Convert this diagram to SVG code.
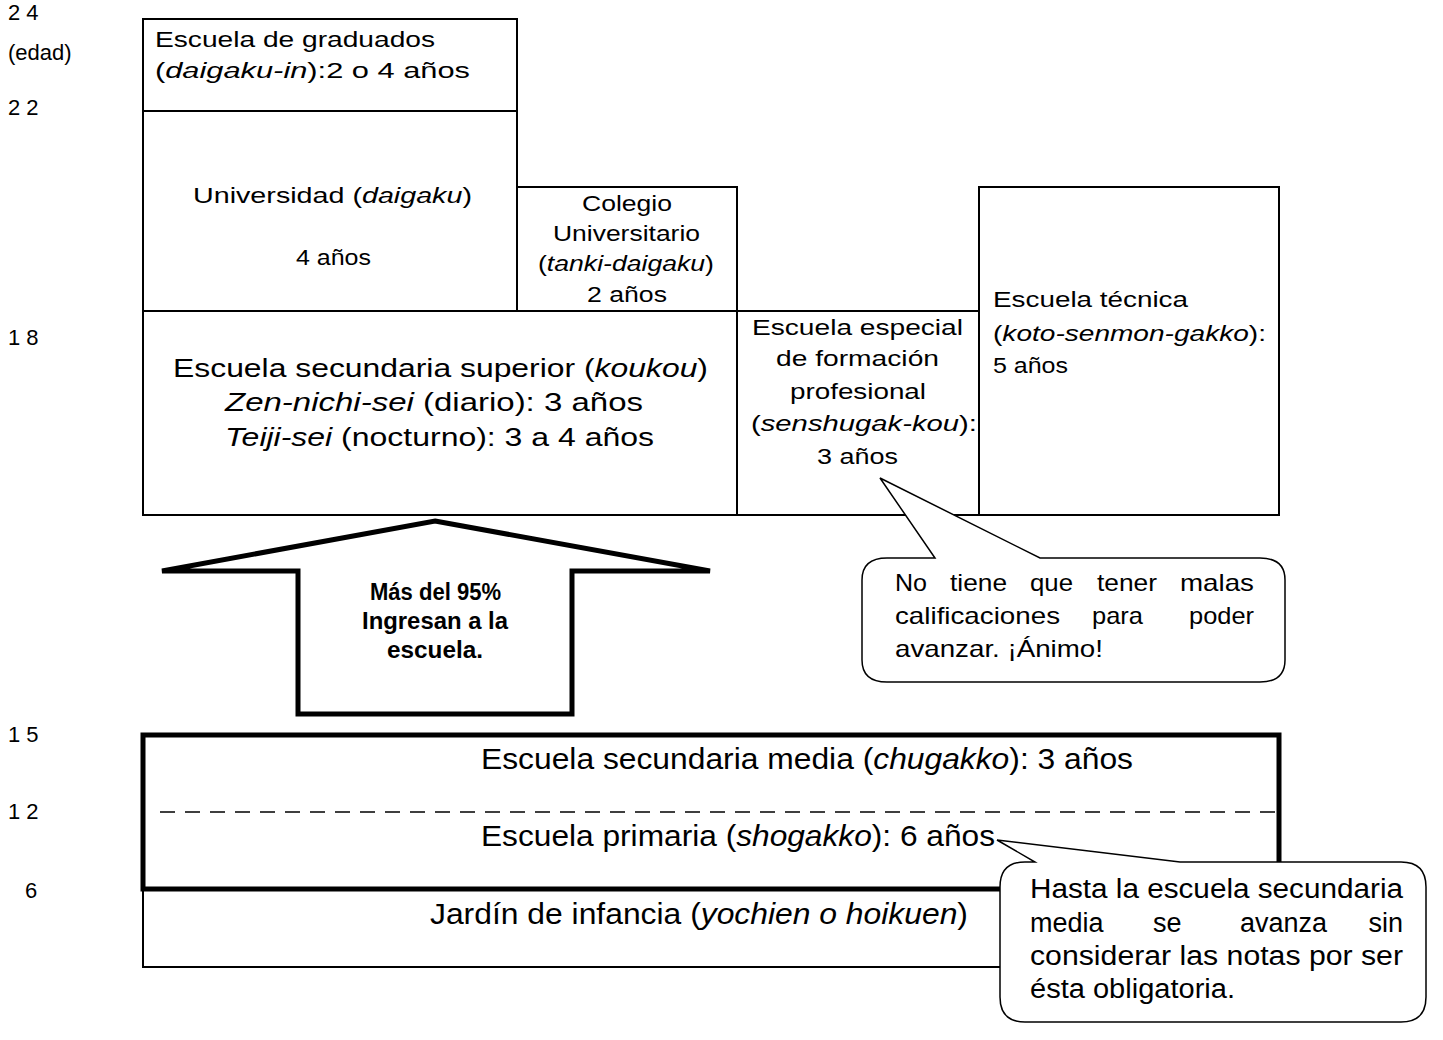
<svg xmlns="http://www.w3.org/2000/svg" width="1443" height="1040" viewBox="0 0 1443 1040">
<style>
text{font-family:"Liberation Sans",Arial,sans-serif;fill:#000}
.a{font-size:22px}
.s{font-size:22px}
.m{font-size:25px}
.b{font-size:23px;font-weight:bold}
.c1{font-size:24px}
.lb{font-size:30px}
.c2{font-size:27px}
.i{font-style:italic}
.box{fill:#fff;stroke:#000;stroke-width:2}
.thin{fill:#fff;stroke:#000;stroke-width:2}
.bubble{fill:#fff;stroke:#000;stroke-width:1.5}
</style>
<rect width="1443" height="1040" fill="#fff"/>
<g id="ages">
<text class="a" x="8" y="20">2 4</text>
<text class="a" x="8" y="60">(edad)</text>
<text class="a" x="8" y="115">2 2</text>
<text class="a" x="8" y="345">1 8</text>
<text class="a" x="8" y="742">1 5</text>
<text class="a" x="8" y="819">1 2</text>
<text class="a" x="25" y="898">6</text>
</g>
<g id="graduados">
<rect class="box" x="143" y="19" width="374" height="92"/>
<text class="s" x="155" y="47" textLength="280" lengthAdjust="spacingAndGlyphs">Escuela de graduados</text>
<text class="s" x="155" y="78" textLength="315" lengthAdjust="spacingAndGlyphs">(<tspan class="i">daigaku-in</tspan>):2 o 4 años</text>
</g>
<g id="universidad">
<rect class="box" x="143" y="111" width="374" height="200"/>
<text class="s" x="193" y="203" textLength="279" lengthAdjust="spacingAndGlyphs">Universidad (<tspan class="i">daigaku</tspan>)</text>
<text class="s" x="296" y="265" textLength="75" lengthAdjust="spacingAndGlyphs">4 años</text>
</g>
<g id="colegio">
<rect class="box" x="517" y="187" width="220" height="124"/>
<text class="s" x="582" y="211" textLength="90" lengthAdjust="spacingAndGlyphs">Colegio</text>
<text class="s" x="553" y="241" textLength="147" lengthAdjust="spacingAndGlyphs">Universitario</text>
<text class="s" x="538" y="271" textLength="176" lengthAdjust="spacingAndGlyphs">(<tspan class="i">tanki-daigaku</tspan>)</text>
<text class="s" x="587" y="302" textLength="80" lengthAdjust="spacingAndGlyphs">2 años</text>
</g>
<g id="superior">
<rect class="box" x="143" y="311" width="594" height="204"/>
<text class="m" x="173" y="377" textLength="535" lengthAdjust="spacingAndGlyphs">Escuela secundaria superior (<tspan class="i">koukou</tspan>)</text>
<text class="m" x="225" y="411" textLength="418" lengthAdjust="spacingAndGlyphs"><tspan class="i">Zen-nichi-sei</tspan> (diario): 3 años</text>
<text class="m" x="225" y="446" textLength="429" lengthAdjust="spacingAndGlyphs"><tspan class="i">Teiji-sei</tspan> (nocturno): 3 a 4 años</text>
</g>
<g id="especial">
<rect class="box" x="737" y="311" width="242" height="204"/>
<text class="s" x="752" y="335" textLength="211" lengthAdjust="spacingAndGlyphs">Escuela especial</text>
<text class="s" x="776" y="366" textLength="163" lengthAdjust="spacingAndGlyphs">de formación</text>
<text class="s" x="790" y="399" textLength="136" lengthAdjust="spacingAndGlyphs">profesional</text>
<text class="s" x="751" y="431" textLength="226" lengthAdjust="spacingAndGlyphs">(<tspan class="i">senshugak-kou</tspan>):</text>
<text class="s" x="817" y="464" textLength="81" lengthAdjust="spacingAndGlyphs">3 años</text>
</g>
<g id="tecnica">
<rect class="box" x="979" y="187" width="300" height="328"/>
<text class="s" x="993" y="307" textLength="195" lengthAdjust="spacingAndGlyphs">Escuela técnica</text>
<text class="s" x="993" y="341" textLength="273" lengthAdjust="spacingAndGlyphs">(<tspan class="i">koto-senmon-gakko</tspan>):</text>
<text class="s" x="993" y="373" textLength="75" lengthAdjust="spacingAndGlyphs">5 años</text>
</g>
<g id="arrow">
<polygon points="435,521 710,571 572,571 572,714 298,714 298,571 162,571" fill="#fff" stroke="#000" stroke-width="5" stroke-miterlimit="2"/>
<text class="b" x="370" y="600" textLength="131" lengthAdjust="spacingAndGlyphs">Más del 95%</text>
<text class="b" x="362" y="629" textLength="146" lengthAdjust="spacingAndGlyphs">Ingresan a la</text>
<text class="b" x="387" y="658" textLength="96" lengthAdjust="spacingAndGlyphs">escuela.</text>
</g>
<g id="callout1">
<path class="bubble" d="M887,558 L935,558 L880,478 L1040,558 L1260,558 Q1285,558 1285,580 L1285,660 Q1285,682 1260,682 L887,682 Q862,682 862,660 L862,580 Q862,558 887,558 Z"/>
<text class="c1" x="895" y="591" textLength="32" lengthAdjust="spacingAndGlyphs">No</text>
<text class="c1" x="950" y="591" textLength="57" lengthAdjust="spacingAndGlyphs">tiene</text>
<text class="c1" x="1030" y="591" textLength="43" lengthAdjust="spacingAndGlyphs">que</text>
<text class="c1" x="1097" y="591" textLength="60" lengthAdjust="spacingAndGlyphs">tener</text>
<text class="c1" x="1180" y="591" textLength="74" lengthAdjust="spacingAndGlyphs">malas</text>
<text class="c1" x="895" y="624" textLength="165" lengthAdjust="spacingAndGlyphs">calificaciones</text>
<text class="c1" x="1092" y="624" textLength="51" lengthAdjust="spacingAndGlyphs">para</text>
<text class="c1" x="1189" y="624" textLength="65" lengthAdjust="spacingAndGlyphs">poder</text>
<text class="c1" x="895" y="657" textLength="208" lengthAdjust="spacingAndGlyphs">avanzar. ¡Ánimo!</text>
</g>
<g id="jardin">
<rect class="thin" x="143" y="889" width="1136" height="78"/>
<text class="lb" x="430" y="924" textLength="538" lengthAdjust="spacingAndGlyphs">Jardín de infancia (<tspan class="i">yochien o hoikuen</tspan>)</text>
</g>
<g id="obligatoria">
<rect x="143" y="735" width="1136" height="154" fill="#fff" stroke="#000" stroke-width="5"/>
<text class="lb" x="481" y="769" textLength="652" lengthAdjust="spacingAndGlyphs">Escuela secundaria media (<tspan class="i">chugakko</tspan>): 3 años</text>
<text class="lb" x="481" y="846" textLength="514" lengthAdjust="spacingAndGlyphs">Escuela primaria (<tspan class="i">shogakko</tspan>): 6 años</text>
</g>
<g id="connectors">
<line x1="160" y1="812" x2="1275" y2="812" stroke="#000" stroke-width="1.5" stroke-dasharray="15 10"/>
</g>
<g id="callout2">
<path class="bubble" d="M1025,862 L1035,862 L997,840 L1180,862 L1401,862 Q1426,862 1426,887 L1426,997 Q1426,1022 1401,1022 L1025,1022 Q1000,1022 1000,997 L1000,887 Q1000,862 1025,862 Z"/>
<text class="c2" x="1030" y="898" textLength="373" lengthAdjust="spacingAndGlyphs">Hasta la escuela secundaria</text>
<text class="c2" x="1030" y="932">media</text>
<text class="c2" x="1153" y="932">se</text>
<text class="c2" x="1240" y="932">avanza</text>
<text class="c2" x="1403" y="932" text-anchor="end">sin</text>
<text class="c2" x="1030" y="965" textLength="373" lengthAdjust="spacingAndGlyphs">considerar las notas por ser</text>
<text class="c2" x="1030" y="998" textLength="205" lengthAdjust="spacingAndGlyphs">ésta obligatoria.</text>
</g>
</svg>
